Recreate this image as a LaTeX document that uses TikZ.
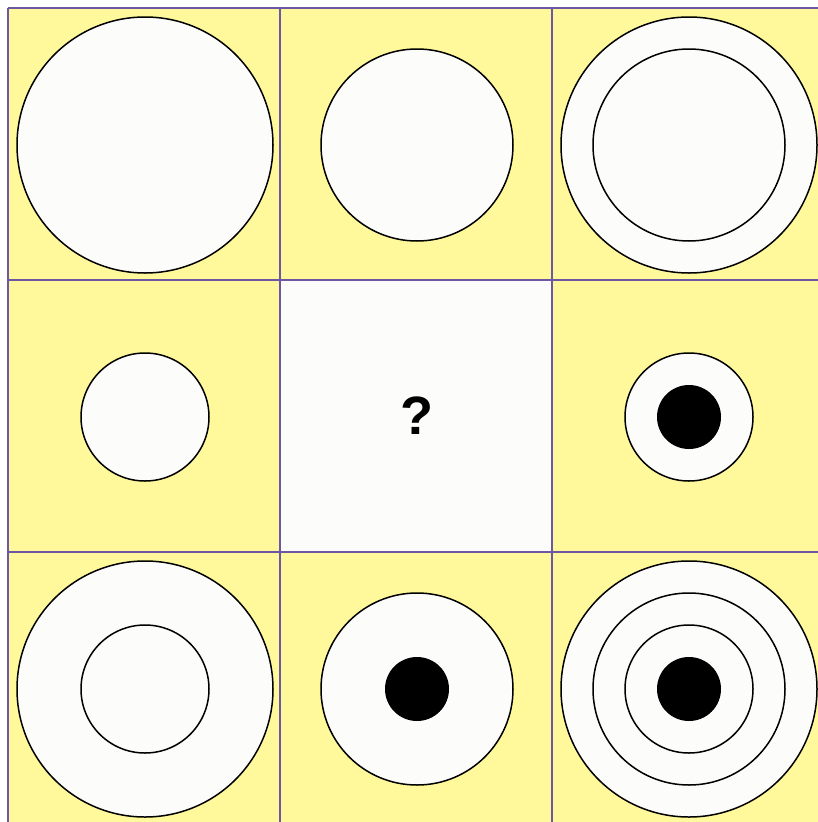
\documentclass[tikz,border=0pt]{standalone}
\usepackage{fontspec}
\setmainfont{Liberation Sans}
\definecolor{cellyellow}{HTML}{FFF99C}
\definecolor{gridline}{HTML}{6B57A3}
\definecolor{discwhite}{HTML}{FCFCFA}
\begin{document}
\begin{tikzpicture}[x=1pt,y=-1pt,
  cell/.style={fill=cellyellow},
  ring/.style={draw=black,line width=1.5pt,fill=discwhite},
  dot/.style={fill=black},
  grid/.style={draw=gridline,line width=1.8pt}]
\useasboundingbox (0,0) rectangle (818,822);
\fill[white] (0,0) rectangle (818,822);
% cells
\foreach \c in {0,1,2}{\foreach \r in {0,1,2}{
  \fill[cell] (8+272*\c,8+272*\r) rectangle (8+272*\c+272,8+272*\r+272);
}}
\fill[discwhite] (280,280) rectangle (552,552);
% grid lines
\draw[grid] (8,8) -- (830,8);
\draw[grid] (8,280) -- (830,280);
\draw[grid] (8,552) -- (830,552);
\draw[grid] (8,8) -- (8,830);
\draw[grid] (280,8) -- (280,830);
\draw[grid] (552,8) -- (552,830);
% row 1
\draw[ring] (145,145) circle (128);
\draw[ring] (417,145) circle (96);
\draw[ring] (689,145) circle (128);
\draw[ring] (689,145) circle (96);
% row 2
\draw[ring] (145,417) circle (64);
\node[font=\bfseries\fontsize{54}{60}\selectfont] (q) at (417,416) {?};
\draw[ring] (689,417) circle (64);
\fill[dot] (689,417) circle (32);
% row 3
\draw[ring] (145,689) circle (128);
\draw[ring] (145,689) circle (64);
\draw[ring] (417,689) circle (96);
\fill[dot] (417,689) circle (32);
\draw[ring] (689,689) circle (128);
\draw[ring] (689,689) circle (96);
\draw[ring] (689,689) circle (64);
\fill[dot] (689,689) circle (32);
\end{tikzpicture}
\end{document}
